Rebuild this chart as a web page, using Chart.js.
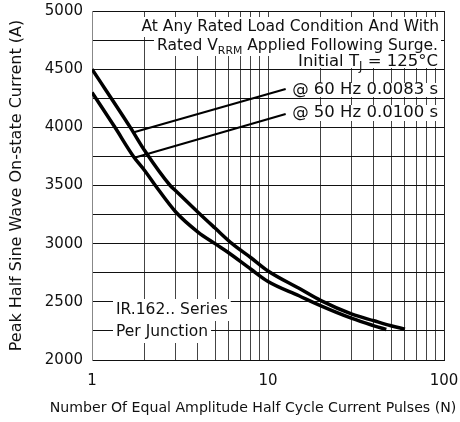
<!DOCTYPE html>
<html lang="en">
<head>
<meta charset="UTF-8">
<title>Surge current vs number of pulses</title>
<style>
  html, body { margin: 0; padding: 0; background: #fff; }
  #chart { display: block; }
</style>
</head>
<body>
<canvas id="chart" width="460" height="422"></canvas>
<script src="https://cdn.jsdelivr.net/npm/chart.js"></script>
<script>
// values (N pulses -> peak current, A)
const pulses60 = [1, 1.65, 2, 2.78, 3, 4, 5, 6.25, 8, 10, 15, 20, 30, 40, 50, 60];
const current60 = [4500, 4000, 3796, 3500, 3452, 3270, 3134, 3000, 2879, 2765, 2616, 2510, 2394, 2337, 2294, 2265];
const pulses50 = [1, 1.35, 1.72, 2, 2.29, 3, 4, 5, 6, 8, 10, 15, 20, 30, 40, 47];
const current50 = [4300, 4000, 3750, 3625, 3500, 3270, 3100, 3000, 2920, 2780, 2675, 2552, 2465, 2357, 2294, 2262];

// leader lines from the curves up to the labels
const lead60N = [1.71, 12.6];
const lead60A = [3955, 4330];
const lead50N = [1.76, 12.6];
const lead50A = [3740, 4114];

// axis ticks
const xGridValues = [1, 2, 3, 4, 5, 6, 7, 8, 9, 10, 20, 30, 40, 50, 60, 70, 80, 90, 100];
const xLabelValues = [1, 10, 100];
const yLabelStep = 500;

const xTitle = 'Number Of Equal Amplitude Half Cycle Current Pulses (N)';
const FONT = '"DejaVu Sans", sans-serif';

function toPoints(xs, ys) {
    return xs.map((x, i) => ({ x: x, y: ys[i] }));
}

// text blocks with white backing, as on the datasheet
const notes = [
    { parts: [['At Any Rated Load Condition And With']], x: 439, y: 27, size: 15.5, align: 'right', pad: 10 },
    { parts: [['Rated V'], ['RRM', true], [' Applied Following Surge.']], x: 438, y: 46, size: 15.5, align: 'right', pad: 10 },
    { parts: [['Initial T'], ['J', true], [' = 125°C']], x: 438, y: 62, size: 16.5, align: 'right', pad: 6 },
    { parts: [['@ 60 Hz 0.0083 s']], x: 438, y: 90, size: 16.5, align: 'right', pad: 7 },
    { parts: [['@ 50 Hz 0.0100 s']], x: 438, y: 113, size: 16.5, align: 'right', pad: 8 },
    { parts: [['IR.162.. Series']], x: 116, y: 310, size: 15.5, align: 'left', pad: 11 },
    { parts: [['Per Junction']], x: 116, y: 332, size: 15.5, align: 'left', pad: 11 }
];

const notesPlugin = {
    id: 'notes',
    beforeDatasetsDraw(chart) {
        const ctx = chart.ctx;
        ctx.save();
        ctx.textBaseline = 'middle';
        notes.forEach(n => {
            const size = n.size;
            // measure the whole line first
            let width = 0;
            n.parts.forEach(p => {
                ctx.font = (p[1] ? size * 0.7 : size) + 'px ' + FONT;
                width += ctx.measureText(p[0]).width;
            });
            const left = n.align === 'right' ? n.x - width : n.x;
            ctx.fillStyle = '#fff';
            ctx.fillRect(left - 3, n.y - n.pad, width + 6, n.pad * 2);
            ctx.fillStyle = '#111';
            let x = left;
            n.parts.forEach(p => {
                ctx.font = (p[1] ? size * 0.7 : size) + 'px ' + FONT;
                ctx.fillText(p[0], x, p[1] ? n.y + 5 : n.y);
                x += ctx.measureText(p[0]).width;
            });
        });
        ctx.restore();
    },
    afterDraw(chart) {
        // x title is wider than the plot, so draw it here instead of the scale title
        const ctx = chart.ctx;
        let size = 15;
        ctx.save();
        ctx.font = size + 'px ' + FONT;
        const w = ctx.measureText(xTitle).width;
        if (w > 407) {
            size = size * 407 / w;
            ctx.font = size + 'px ' + FONT;
        }
        ctx.fillStyle = '#111';
        ctx.textAlign = 'center';
        ctx.textBaseline = 'middle';
        ctx.fillText(xTitle, 253, 408);
        ctx.restore();
    }
};

const curveStyle = {
    borderColor: '#000',
    borderWidth: 3.5,
    pointRadius: 0,
    fill: false,
    cubicInterpolationMode: 'monotone'
};
const leadStyle = {
    borderColor: '#000',
    borderWidth: 2,
    pointRadius: 0,
    fill: false
};

new Chart(document.getElementById('chart'), {
    type: 'line',
    data: {
        datasets: [
            Object.assign({ label: '60 Hz', data: toPoints(pulses60, current60) }, curveStyle),
            Object.assign({ label: '50 Hz', data: toPoints(pulses50, current50) }, curveStyle),
            Object.assign({ label: 'lead 60', data: toPoints(lead60N, lead60A) }, leadStyle),
            Object.assign({ label: 'lead 50', data: toPoints(lead50N, lead50A) }, leadStyle)
        ]
    },
    options: {
        responsive: false,
        animation: false,
        layout: { padding: { top: 11, right: 16, left: 0, bottom: 0 } },
        plugins: {
            legend: { display: false },
            tooltip: { enabled: false }
        },
        scales: {
            x: {
                type: 'logarithmic',
                min: 1,
                max: 100,
                afterBuildTicks(scale) {
                    scale.ticks = xGridValues.map(v => ({ value: v }));
                },
                afterFit(scale) {
                    scale.height = 62;
                    scale.paddingLeft = 0;
                    scale.paddingRight = 0;
                },
                grid: {
                    drawTicks: false,
                    lineWidth: 1,
                    color: ctx => ctx.tick && ctx.tick.value === 1 ? '#888' : (ctx.tick && ctx.tick.value === 100 ? '#222' : '#444')
                },
                border: { color: '#111', width: 1 },
                ticks: {
                    autoSkip: false,
                    maxRotation: 0,
                    padding: 12,
                    color: '#111',
                    font: { family: FONT, size: 15 },
                    callback: v => xLabelValues.includes(v) ? String(v) : ''
                }
            },
            y: {
                min: 2000,
                max: 5000,
                afterFit(scale) {
                    scale.width = 92;
                    scale.paddingTop = 0;
                    scale.paddingBottom = 0;
                },
                grid: {
                    drawTicks: false,
                    lineWidth: 1,
                    color: '#111'
                },
                border: { color: '#888', width: 1 },
                ticks: {
                    stepSize: 250,
                    padding: 9,
                    color: '#111',
                    font: { family: FONT, size: 15 },
                    callback: v => v % yLabelStep === 0 ? String(v) : ''
                },
                title: {
                    display: true,
                    text: 'Peak Half Sine Wave On-state Current (A)',
                    color: '#111',
                    font: { family: FONT, size: 16 },
                    padding: { top: 7, bottom: 0 }
                }
            }
        }
    },
    plugins: [notesPlugin]
});
</script>
</body>
</html>
